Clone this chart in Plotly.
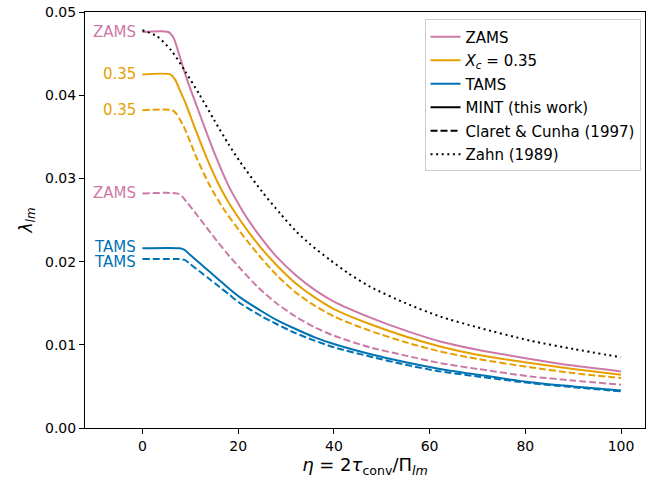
import plotly.graph_objects as go

# ---- data ----
zams_mint_eta = [0, 5.4, 6.5, 7.5, 8.9, 10.5, 12.5, 15, 18, 20.4, 22, 25, 28, 32, 36, 40, 47.5, 55, 62.2, 70, 81, 90, 100]
zams_mint_val = [0.0476, 0.0476, 0.0469, 0.0452, 0.0426, 0.0400, 0.0369, 0.0331, 0.0291, 0.0266, 0.0251, 0.0227, 0.0206, 0.0184, 0.0166, 0.0152, 0.0133, 0.0117, 0.0104, 0.0094, 0.0083, 0.0075, 0.0068]

xc_mint_eta = [0, 5.8, 6.8, 7.8, 8.9, 11, 13.4, 16, 18, 20.4, 22, 25, 28, 32, 36, 40, 47.5, 55, 62.2, 70, 81, 90, 100]
xc_mint_val = [0.0425, 0.0425, 0.0419, 0.0406, 0.0392, 0.0360, 0.0325, 0.0292, 0.0271, 0.0250, 0.0237, 0.0215, 0.0196, 0.0174, 0.0157, 0.0143, 0.0125, 0.0110, 0.0098, 0.0088, 0.0078, 0.0071, 0.0064]

xc_cc_eta = [0, 6.2, 7.2, 8.0, 8.9, 11.3, 14, 17, 20.4, 22, 25, 28, 32, 36, 40, 47.5, 55, 62.2, 70, 81, 90, 100]
xc_cc_val = [0.0382, 0.0382, 0.0377, 0.0369, 0.0359, 0.0325, 0.0292, 0.0263, 0.0236, 0.0224, 0.0203, 0.0184, 0.0163, 0.0147, 0.0134, 0.0117, 0.0103, 0.0092, 0.0083, 0.0073, 0.0066, 0.0060]

zams_cc_eta = [0, 7.2, 8.2, 9.2, 11, 13, 15, 17.5, 20.4, 24, 28, 32, 36, 40, 47.5, 55, 62.2, 70, 81, 90, 100]
zams_cc_val = [0.0282, 0.0282, 0.0279, 0.0272, 0.0259, 0.0244, 0.0229, 0.0211, 0.0192, 0.0170, 0.0150, 0.0134, 0.0121, 0.0111, 0.0097, 0.0087, 0.0078, 0.0071, 0.0062, 0.0057, 0.0052]

tams_mint_eta = [0, 7.8, 8.8, 10, 12, 14, 16, 18, 20.4, 25, 28, 32, 36, 40, 47.5, 55, 62.2, 70, 81, 90, 100]
tams_mint_val = [0.0216, 0.0216, 0.0214, 0.0208, 0.0198, 0.0188, 0.0178, 0.0168, 0.0157, 0.0140, 0.0130, 0.0119, 0.0109, 0.0101, 0.0089, 0.0079, 0.0071, 0.0064, 0.0055, 0.0050, 0.0045]

tams_cc_eta = [0, 7.8, 8.8, 10, 12, 14, 16, 18, 20.4, 25, 28, 32, 36, 40, 47.5, 55, 62.2, 70, 81, 90, 100]
tams_cc_val = [0.0203, 0.0203, 0.0202, 0.0197, 0.0188, 0.0179, 0.0170, 0.0161, 0.0150, 0.0134, 0.0125, 0.0114, 0.0105, 0.0097, 0.0086, 0.0076, 0.0068, 0.0062, 0.0054, 0.0049, 0.0044]

zahn_eta = [0, 3, 6, 8.9, 12, 15, 18, 20.4, 25, 28.75, 32, 35, 39.2, 43, 47.5, 55, 62.2, 70, 81, 90, 100]
zahn_val = [0.0478, 0.0471, 0.0454, 0.0429, 0.0400, 0.0370, 0.0341, 0.0320, 0.0284, 0.0258, 0.0237, 0.0221, 0.0202, 0.0186, 0.0170, 0.0150, 0.0134, 0.0121, 0.0105, 0.0095, 0.0085]

label_texts = ["ZAMS", "0.35", "0.35", "ZAMS", "TAMS", "TAMS"]
label_values = [0.0476, 0.0425, 0.0382, 0.0282, 0.0218, 0.0200]
label_eta = -1.0

legend_labels = ["ZAMS", "<i>X</i><sub><i>c</i></sub> = 0.35", "TAMS",
                 "MINT (this work)", "Claret & Cunha (1997)", "Zahn (1989)"]

PINK = "#CC79A7"
ORANGE = "#E69F00"
BLUE = "#0072B2"
BLACK = "#000000"
DASH = "7px,3px"
DOT = "2px,3.6px"
LW = 2

label_colors = [PINK, ORANGE, ORANGE, PINK, BLUE, BLUE]

fig = go.Figure()

curves = [
    (zams_mint_eta, zams_mint_val, PINK, "solid"),
    (xc_mint_eta, xc_mint_val, ORANGE, "solid"),
    (tams_mint_eta, tams_mint_val, BLUE, "solid"),
    (zams_cc_eta, zams_cc_val, PINK, DASH),
    (xc_cc_eta, xc_cc_val, ORANGE, DASH),
    (tams_cc_eta, tams_cc_val, BLUE, DASH),
    (zahn_eta, zahn_val, BLACK, DOT),
]
for xs, ys, col, dash in curves:
    fig.add_trace(go.Scatter(x=xs, y=ys, mode="lines",
                             line=dict(color=col, width=LW, dash=dash, shape="spline", smoothing=0.7),
                             showlegend=False, hoverinfo="skip"))

legend_styles = [(PINK, "solid"), (ORANGE, "solid"), (BLUE, "solid"),
                 (BLACK, "solid"), (BLACK, DASH), (BLACK, DOT)]
for i, (name, (col, dash)) in enumerate(zip(legend_labels, legend_styles)):
    fig.add_trace(go.Scatter(x=[None], y=[None], mode="lines", name=name,
                             legendgroup=f"g{i}",
                             line=dict(color=col, width=LW, dash=dash)))

for txt, val, col in zip(label_texts, label_values, label_colors):
    fig.add_annotation(x=label_eta, y=val, text=txt, showarrow=False,
                       xanchor="right", yanchor="middle", height=14,
                       font=dict(color=col, size=15))

axis_common = dict(showline=True, linecolor="black", linewidth=1, mirror=True,
                   ticks="outside", ticklen=5, tickwidth=1, tickcolor="black",
                   showgrid=False, zeroline=False, automargin=False,
                   tickfont=dict(size=14, color="black"))

fig.update_layout(
    width=661, height=485,
    margin=dict(l=85, r=16, t=12, b=57),
    plot_bgcolor="white", paper_bgcolor="white",
    font=dict(family="DejaVu Sans", color="black", size=14),
    xaxis=dict(range=[-12, 105], tickmode="linear", tick0=0, dtick=20,
               title=dict(text="<i>η</i> = 2<i>τ</i><sub>conv</sub>/Π<sub><i>lm</i></sub>",
                          font=dict(size=18), standoff=4),
               **axis_common),
    yaxis=dict(range=[0, 0.05], tickmode="linear", tick0=0, dtick=0.01, tickformat=".2f",
               title=dict(text="<i>λ</i><sub><i>lm</i></sub>", font=dict(size=17), standoff=8),
               **axis_common),
    legend=dict(x=0.992, y=0.982, xanchor="right", yanchor="top",
                bgcolor="rgba(255,255,255,0.8)", bordercolor="#cccccc", borderwidth=1,
                font=dict(size=15), tracegroupgap=1),
)

fig.write_html("out.html", config={"displayModeBar": False},
               post_script="document.body.style.margin='0';document.body.style.overflow='hidden';")
